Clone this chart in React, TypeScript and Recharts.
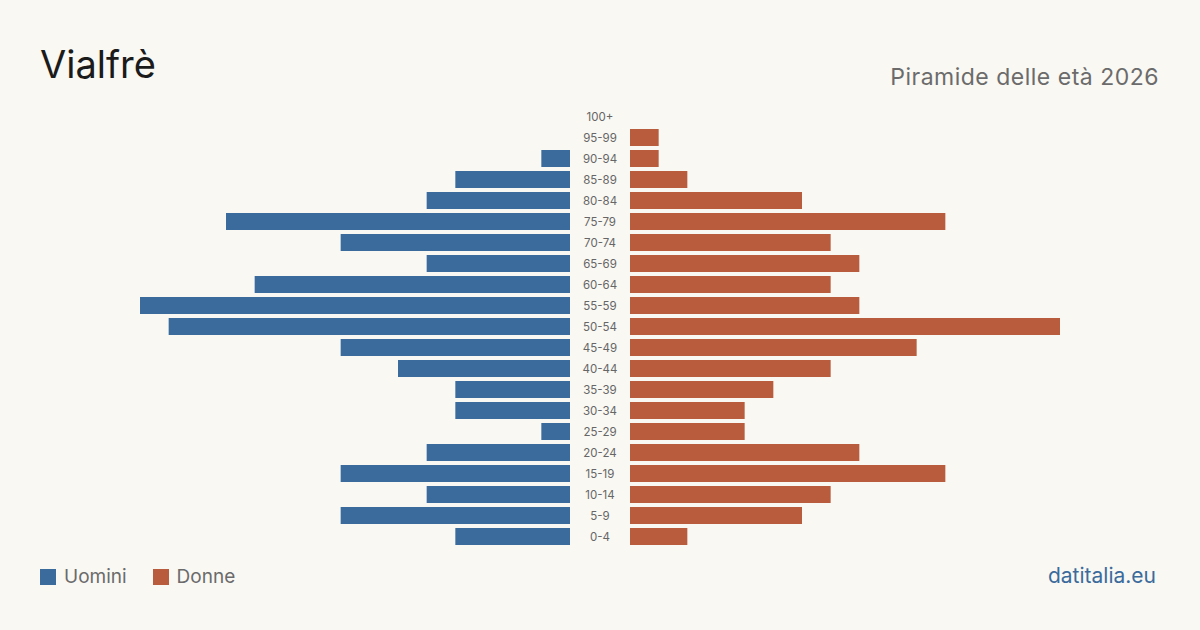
import { BarChart, Bar, XAxis, YAxis } from "recharts"

const ageGroups = [
  "100+", "95-99", "90-94", "85-89", "80-84", "75-79", "70-74", "65-69", "60-64", "55-59",
  "50-54", "45-49", "40-44", "35-39", "30-34", "25-29", "20-24", "15-19", "10-14", "5-9", "0-4",
]
const men = [0, 0, 1, 4, 5, 12, 8, 5, 11, 15, 14, 8, 6, 4, 4, 1, 5, 8, 5, 8, 4]
const women = [0, 1, 1, 2, 6, 11, 7, 8, 7, 8, 15, 10, 7, 5, 4, 4, 8, 11, 7, 6, 2]

const data = ageGroups.map((age, i) => ({ age, men: men[i], women: women[i] }))

const BLUE = "#3b6b9c"
const ORANGE = "#b85c3d"
const BG = "#f9f8f3"
const FONT = "Inter, 'Noto Sans', sans-serif"
const MAX = 15
const ROW = 21

function AgeTick({ y, payload }: any) {
  return (
    <text x={30} y={y} textAnchor="middle" dominantBaseline="central" fontSize={11.5} fill="#666" fontFamily={FONT}>
      {payload.value}
    </text>
  )
}

export default function App() {
  const h = ROW * ageGroups.length
  return (
    <div style={{ position: "absolute", left: 0, top: 0, width: 1200, height: 630, background: BG, fontFamily: FONT, overflow: "hidden" }}>
      <div style={{ position: "absolute", left: 40, top: 45, fontSize: 38, color: "#1b1b1b", lineHeight: 1 }}>Vialfrè</div>
      <div style={{ position: "absolute", right: 41, top: 66, fontSize: 23, letterSpacing: 0.5, color: "#6b6b6b", lineHeight: 1 }}>Piramide delle età 2026</div>

      {/* men, bars growing to the left */}
      <div style={{ position: "absolute", left: 140, top: 105.5 }}>
        <BarChart width={430} height={h} data={data} layout="vertical" margin={{ top: 0, right: 0, bottom: 0, left: 0 }}>
          <XAxis type="number" domain={[0, MAX]} reversed hide />
          <YAxis type="category" dataKey="age" hide />
          <Bar dataKey="men" fill={BLUE} barSize={17} isAnimationActive={false} />
        </BarChart>
      </div>

      {/* women, with the age labels in the middle column */}
      <div style={{ position: "absolute", left: 570, top: 105.5 }}>
        <BarChart width={490} height={h} data={data} layout="vertical" margin={{ top: 0, right: 0, bottom: 0, left: 0 }}>
          <XAxis type="number" domain={[0, MAX]} hide />
          <YAxis type="category" dataKey="age" width={60} axisLine={false} tickLine={false} tick={<AgeTick />} interval={0} />
          <Bar dataKey="women" fill={ORANGE} barSize={17} isAnimationActive={false} />
        </BarChart>
      </div>

      <div style={{ position: "absolute", left: 40, top: 567, display: "flex", alignItems: "center", fontSize: 19, color: "#6b6b6b", lineHeight: 1 }}>
        <span style={{ width: 16, height: 16, background: BLUE, marginRight: 8 }} />
        <span style={{ marginRight: 26 }}>Uomini</span>
        <span style={{ width: 16, height: 16, background: ORANGE, marginRight: 8 }} />
        <span>Donne</span>
      </div>
      <div style={{ position: "absolute", right: 44, top: 565, fontSize: 21, color: BLUE, lineHeight: 1 }}>datitalia.eu</div>
    </div>
  )
}
